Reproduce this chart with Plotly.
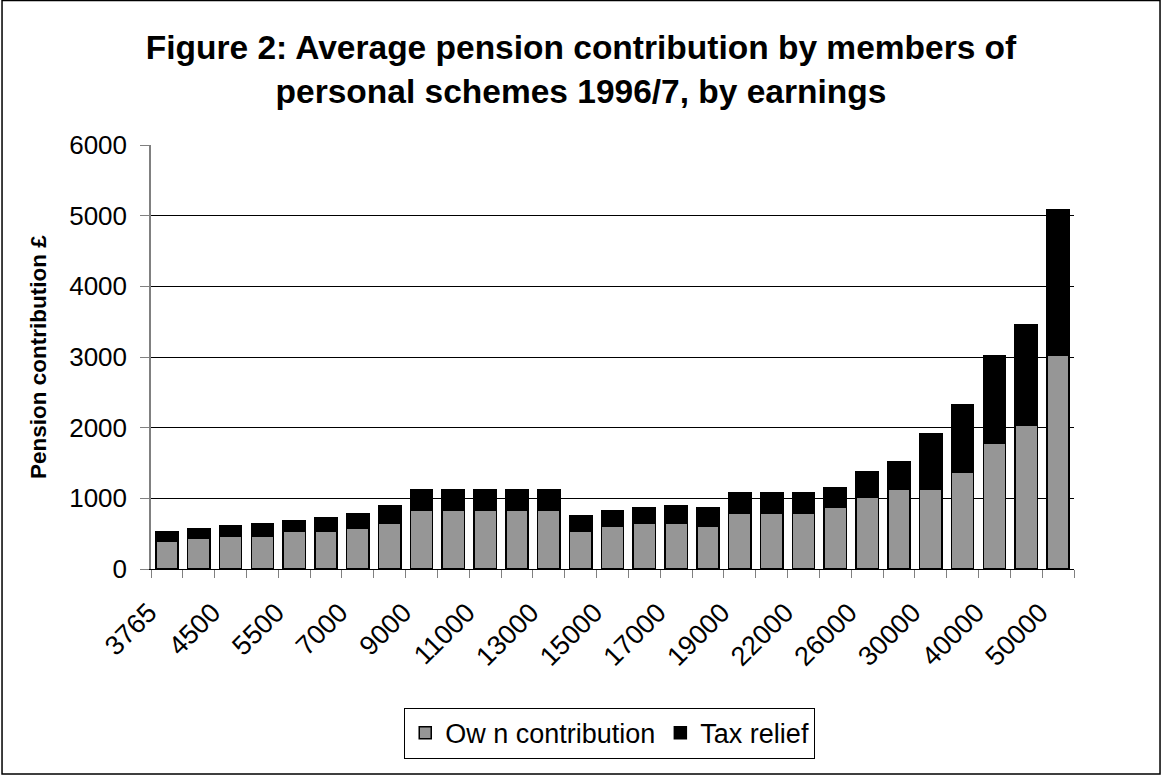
import plotly.graph_objects as go

categories = ["3765", "4000", "4500", "5000", "5500", "6000", "7000", "8000", "9000", "10000",
              "11000", "12000", "13000", "14000", "15000", "16000", "17000", "18000", "19000", "20000",
              "22000", "24000", "26000", "28000", "30000", "35000", "40000", "45000", "50000"]
own_contribution = [390, 435, 470, 470, 540, 540, 575, 650, 830, 830,
                    830, 830, 830, 540, 610, 650, 650, 610, 790, 790,
                    790, 870, 1010, 1125, 1125, 1375, 1780, 2035, 3020]
tax_relief = [140, 140, 140, 175, 140, 180, 210, 245, 290, 290,
              290, 290, 290, 210, 215, 215, 245, 255, 290, 290,
              290, 280, 365, 390, 795, 945, 1240, 1420, 2070]
y_ticks = [0, 1000, 2000, 3000, 4000, 5000, 6000]

positions = list(range(len(categories)))
label_positions = positions[::2]
label_text = categories[::2]

FONT = "Liberation Sans, Arial, sans-serif"

fig = go.Figure()
fig.add_trace(go.Bar(x=positions, y=own_contribution, name="Ow n contribution",
                     marker=dict(color="#969696", line=dict(color="black", width=1.5)),
                     customdata=categories))
fig.add_trace(go.Bar(x=positions, y=tax_relief, name="Tax relief",
                     marker=dict(color="black", line=dict(color="black", width=1.5)),
                     customdata=categories))

fig.update_layout(
    barmode="stack",
    bargap=0.3,
    width=1162, height=775,
    margin=dict(l=151, r=88, t=145, b=206),
    paper_bgcolor="white", plot_bgcolor="white",
    font=dict(family=FONT, color="black"),
    title=dict(text="<b>Figure 2: Average pension contribution by members of<br>personal schemes 1996/7, by earnings</b>",
               x=0.5, xref="container", xanchor="center",
               y=1 - 59 / 775, yref="container", yanchor="top",
               font=dict(size=33.5, family=FONT, color="black")),
    xaxis=dict(range=[-0.5, len(categories) - 0.5], tickmode="array",
               tickvals=label_positions, ticktext=label_text, tickangle=-45,
               ticks="", showgrid=False, zeroline=False,
               showline=True, linecolor="black", linewidth=1,
               ticklabelstandoff=16, ticklabelshift=-18,
               tickfont=dict(size=27, family=FONT, color="black"),
               minor=dict(tickmode="linear", tick0=-0.5, dtick=1, ticks="outside",
                          ticklen=8, tickcolor="#808080", tickwidth=1, showgrid=False)),
    yaxis=dict(range=[0, 6000], tickmode="array", tickvals=y_ticks,
               ticks="outside", ticklen=9, tickcolor="#808080", tickwidth=1,
               showgrid=True, gridcolor="black", gridwidth=1,
               zeroline=False, showline=True, linecolor="#808080", linewidth=1.5,
               ticklabelstandoff=8,
               tickfont=dict(size=26, family=FONT, color="black")),
    legend=dict(orientation="h", x=0.497, xanchor="center", y=-0.327, yanchor="top",
                bordercolor="black", borderwidth=1, bgcolor="white",
                font=dict(size=27, family=FONT, color="black"),
                itemclick=False, traceorder="normal"),
    showlegend=True,
)

fig.add_annotation(text="<b>Pension contribution £</b>", textangle=-90,
                   xref="paper", yref="paper", x=(38 - 151) / 923, y=0.5,
                   xanchor="center", yanchor="middle",
                   showarrow=False, font=dict(size=22.5, family=FONT, color="black"))

# outer chart border
fig.add_shape(type="rect", xref="paper", yref="paper",
              x0=-0.1614, x1=1.0932, y0=-0.4834, y1=1.341,
              line=dict(color="black", width=1.5), fillcolor="rgba(0,0,0,0)", layer="above")

fig.write_html("out.html", config={"displayModeBar": False},
               post_script="document.body.style.margin='0px';")
